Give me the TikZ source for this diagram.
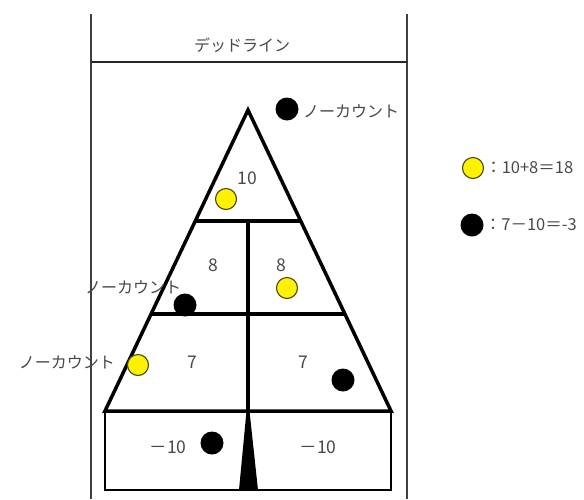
\documentclass[tikz,border=0pt]{standalone}
\usepackage{fontspec}
\setmainfont{Noto Sans CJK JP}
\usetikzlibrary{calc}
\definecolor{txtgray}{HTML}{484848}
\definecolor{dotyellow}{HTML}{FFF200}
\definecolor{dotedge}{HTML}{4A4A10}
\begin{document}
\begin{tikzpicture}[x=1pt,y=-1pt,
  lbl/.style={font=\fontsize{16}{16}\selectfont, text=txtgray, inner sep=0pt},
  num/.style={font=\fontsize{17.5}{17.5}\selectfont, text=txtgray, inner sep=0pt},
  ydot/.style={circle, draw=dotedge, line width=1.1pt, fill=dotyellow, minimum size=21pt, inner sep=0pt},
  bdot/.style={circle, fill=black, minimum size=23pt, inner sep=0pt},
  tri/.style={line width=3.5pt, line join=miter},
  court/.style={line width=1.4pt, draw=black!75},
  deadl/.style={line width=2pt, draw=black!85},
  boxl/.style={line width=2.6pt}]
\useasboundingbox (0,0) rectangle (584,499);
% court outline
\coordinate (lt) at (91,14);
\coordinate (lb) at (91,499);
\coordinate (rt) at (407,14);
\coordinate (rb) at (407,499);
\coordinate (dl) at (91,62);
\coordinate (dr) at (407,62);
\draw[court] (lt) -- (lb);
\draw[court] (rt) -- (rb);
\draw[deadl] (dl) -- (dr);
\node[lbl] (dead) at (242,45) {デッドライン};
% triangle
\coordinate (apex) at (248,110);
\coordinate (bl) at (105,411);
\coordinate (br) at (391,411);
\coordinate (bm) at (248,411);
\coordinate (h1l) at ($(apex)!0.3688!(bl)$);
\coordinate (h1r) at ($(apex)!0.3688!(br)$);
\coordinate (h1m) at (248,221);
\coordinate (h2l) at ($(apex)!0.6777!(bl)$);
\coordinate (h2r) at ($(apex)!0.6777!(br)$);
% bottom box
\coordinate (bbl) at (105,490);
\coordinate (bbr) at (391,490);
\draw[boxl] (bl) -- (bbl) -- (bbr) -- (br);
\fill[black] (246.5,411) -- (249.5,411) -- (258,490) -- (239,490) -- cycle;
\draw[tri] (apex) -- (bl) -- (br) -- cycle;
\draw[tri] (h1l) -- (h1r);
\draw[tri] (h2l) -- (h2r);
\draw[tri] (h1m) -- (bm);
% scores
\node[num] (s10) at (247,178) {10};
\node[num] (s8a) at (213,265) {8};
\node[num] (s8b) at (281,265) {8};
\node[num] (s7a) at (192,362) {7};
\node[num] (s7b) at (303,362) {7};
\node[num] (m10a) at (168,447) {－10};
\node[num] (m10b) at (318,447) {－10};
% no-count labels
\node[lbl] (nc1) at (351,111) {ノーカウント};
\node[lbl] (nc2) at (133,287) {ノーカウント};
\node[lbl] (nc3) at (67,362) {ノーカウント};
% stones
\node[bdot] (b1) at (287,109) {};
\node[ydot] (y1) at (226,199) {};
\node[ydot] (y2) at (287,288) {};
\node[bdot] (b2) at (185,305) {};
\node[ydot] (y3) at (138,365) {};
\node[bdot] (b3) at (343,380) {};
\node[bdot] (b4) at (212,443) {};
% legend
\node[ydot] (ly) at (473,168) {};
\node[num, anchor=west, font=\fontsize{16.5}{16.5}\selectfont] (lyt) at ($(ly.east)+(1,0)$) {：10+8＝18};
\node[bdot] (lb1) at (472,225) {};
\node[num, anchor=west, font=\fontsize{16.5}{16.5}\selectfont] (lbt) at ($(lb1.east)+(1,0)$) {：7－10＝-3};
\end{tikzpicture}
\end{document}
